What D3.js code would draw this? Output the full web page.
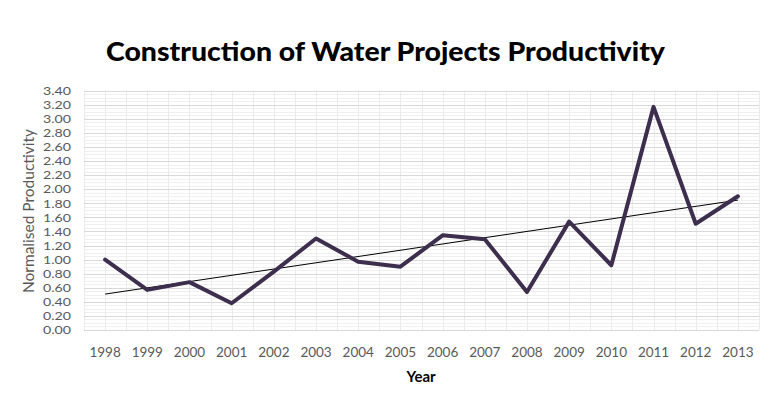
<!DOCTYPE html>
<html>
<head>
<meta charset="utf-8">
<script src="https://cdn.jsdelivr.net/npm/d3@7"></script>
<style>
  html, body { margin: 0; padding: 0; background: #fff; }
  svg { display: block; }
</style>
</head>
<body>
<svg id="chart" width="772" height="396"></svg>
<script>
const years = ["1998","1999","2000","2001","2002","2003","2004","2005","2006","2007","2008","2009","2010","2011","2012","2013"];
const productivity = [1.00, 0.57, 0.68, 0.38, 0.83, 1.30, 0.97, 0.90, 1.345, 1.29, 0.54, 1.54, 0.92, 3.17, 1.51, 1.90];
const yTicks = [0,0.2,0.4,0.6,0.8,1.0,1.2,1.4,1.6,1.8,2.0,2.2,2.4,2.6,2.8,3.0,3.2,3.4];
const titleText = "Construction of Water Projects Productivity";
const xTitle = "Year";
const yTitle = "Normalised Productivity";

(function () {
const svg = d3.select("#chart");
const pLeft = 84, pRight = 759, pTop = 90.7, pBottom = 330;

const x = d3.scaleBand().domain(years).range([pLeft, pRight]).paddingInner(0).paddingOuter(0);
const y = d3.scaleLinear().domain([0, 3.4]).range([pBottom, pTop]);
const cx = d => x(d) + x.bandwidth() / 2;

const grid = svg.append("g");
const minor = d3.range(0, 3.4001, 0.05);
grid.selectAll("line.minor").data(minor).join("line")
  .attr("x1", pLeft).attr("x2", pRight)
  .attr("y1", d => Math.round(y(d)) + 0.5).attr("y2", d => Math.round(y(d)) + 0.5)
  .attr("stroke", "#f0f0f0").attr("stroke-width", 1);
const vpos = [];
years.forEach(yr => { vpos.push(x(yr)); vpos.push(cx(yr)); });
vpos.push(pRight);
grid.selectAll("line.v").data(vpos).join("line")
  .attr("x1", d => Math.round(d) + 0.5).attr("x2", d => Math.round(d) + 0.5)
  .attr("y1", pTop).attr("y2", pBottom)
  .attr("stroke", "#ebebeb").attr("stroke-width", 1);
grid.selectAll("line.major").data(yTicks).join("line")
  .attr("x1", pLeft).attr("x2", pRight)
  .attr("y1", d => Math.round(y(d)) + 0.5).attr("y2", d => Math.round(y(d)) + 0.5)
  .attr("stroke", "#d9d9d9").attr("stroke-width", 1);

const yAxis = d3.axisLeft(y).tickValues(yTicks).tickFormat(d3.format(".2f")).tickSize(0).tickPadding(0);
const yg = svg.append("g").attr("transform", `translate(71,0)`).call(yAxis);
yg.select(".domain").remove();
yg.selectAll("text").attr("font-family", "Lato, 'Open Sans', sans-serif").attr("font-size", 11.6).attr("fill", "#595959")
  .attr("textLength", 28).attr("lengthAdjust", "spacingAndGlyphs");

const xAxis = d3.axisBottom(x).tickSize(0).tickPadding(0);
const xg = svg.append("g").attr("transform", `translate(0,${pBottom})`).call(xAxis);
xg.select(".domain").remove();
xg.selectAll("text").attr("font-family", "Lato, 'Open Sans', sans-serif").attr("font-size", 13.5).attr("fill", "#595959")
  .attr("dy", null).attr("y", 27);

const n = productivity.length;
const xs = d3.range(n);
const mx = d3.mean(xs), my = d3.mean(productivity);
const slope = d3.sum(xs, i => (i - mx) * (productivity[i] - my)) / d3.sum(xs, i => (i - mx) ** 2);
const intercept = my - slope * mx;
svg.append("line")
  .attr("x1", cx(years[0])).attr("y1", y(intercept))
  .attr("x2", cx(years[n - 1])).attr("y2", y(intercept + slope * (n - 1)))
  .attr("stroke", "#000").attr("stroke-width", 1);

const line = d3.line().x((d, i) => cx(years[i])).y(d => y(d));
svg.append("path").datum(productivity)
  .attr("d", line)
  .attr("fill", "none").attr("stroke", "#3c2e4c").attr("stroke-width", 4)
  .attr("stroke-linejoin", "round").attr("stroke-linecap", "round");

const t = svg.append("text").text(titleText)
  .attr("x", 385.5).attr("y", 61).attr("text-anchor", "middle")
  .attr("font-family", "Lato, 'Open Sans', sans-serif").attr("font-weight", "900")
  .attr("font-size", 27).attr("fill", "#000");
const tl = t.node().getComputedTextLength();
if (Math.abs(tl - 559) > 3) t.attr("textLength", 559).attr("lengthAdjust", "spacingAndGlyphs");

svg.append("text").text(xTitle)
  .attr("x", 421).attr("y", 382).attr("text-anchor", "middle")
  .attr("font-family", "Lato, 'Open Sans', sans-serif").attr("font-weight", "bold")
  .attr("font-size", 15).attr("fill", "#000");

svg.append("text").text(yTitle)
  .attr("transform", "translate(34,211) rotate(-90)").attr("text-anchor", "middle")
  .attr("font-family", "Lato, 'Open Sans', sans-serif")
  .attr("font-size", 15.5).attr("fill", "#595959");
})();
</script>
</body>
</html>
